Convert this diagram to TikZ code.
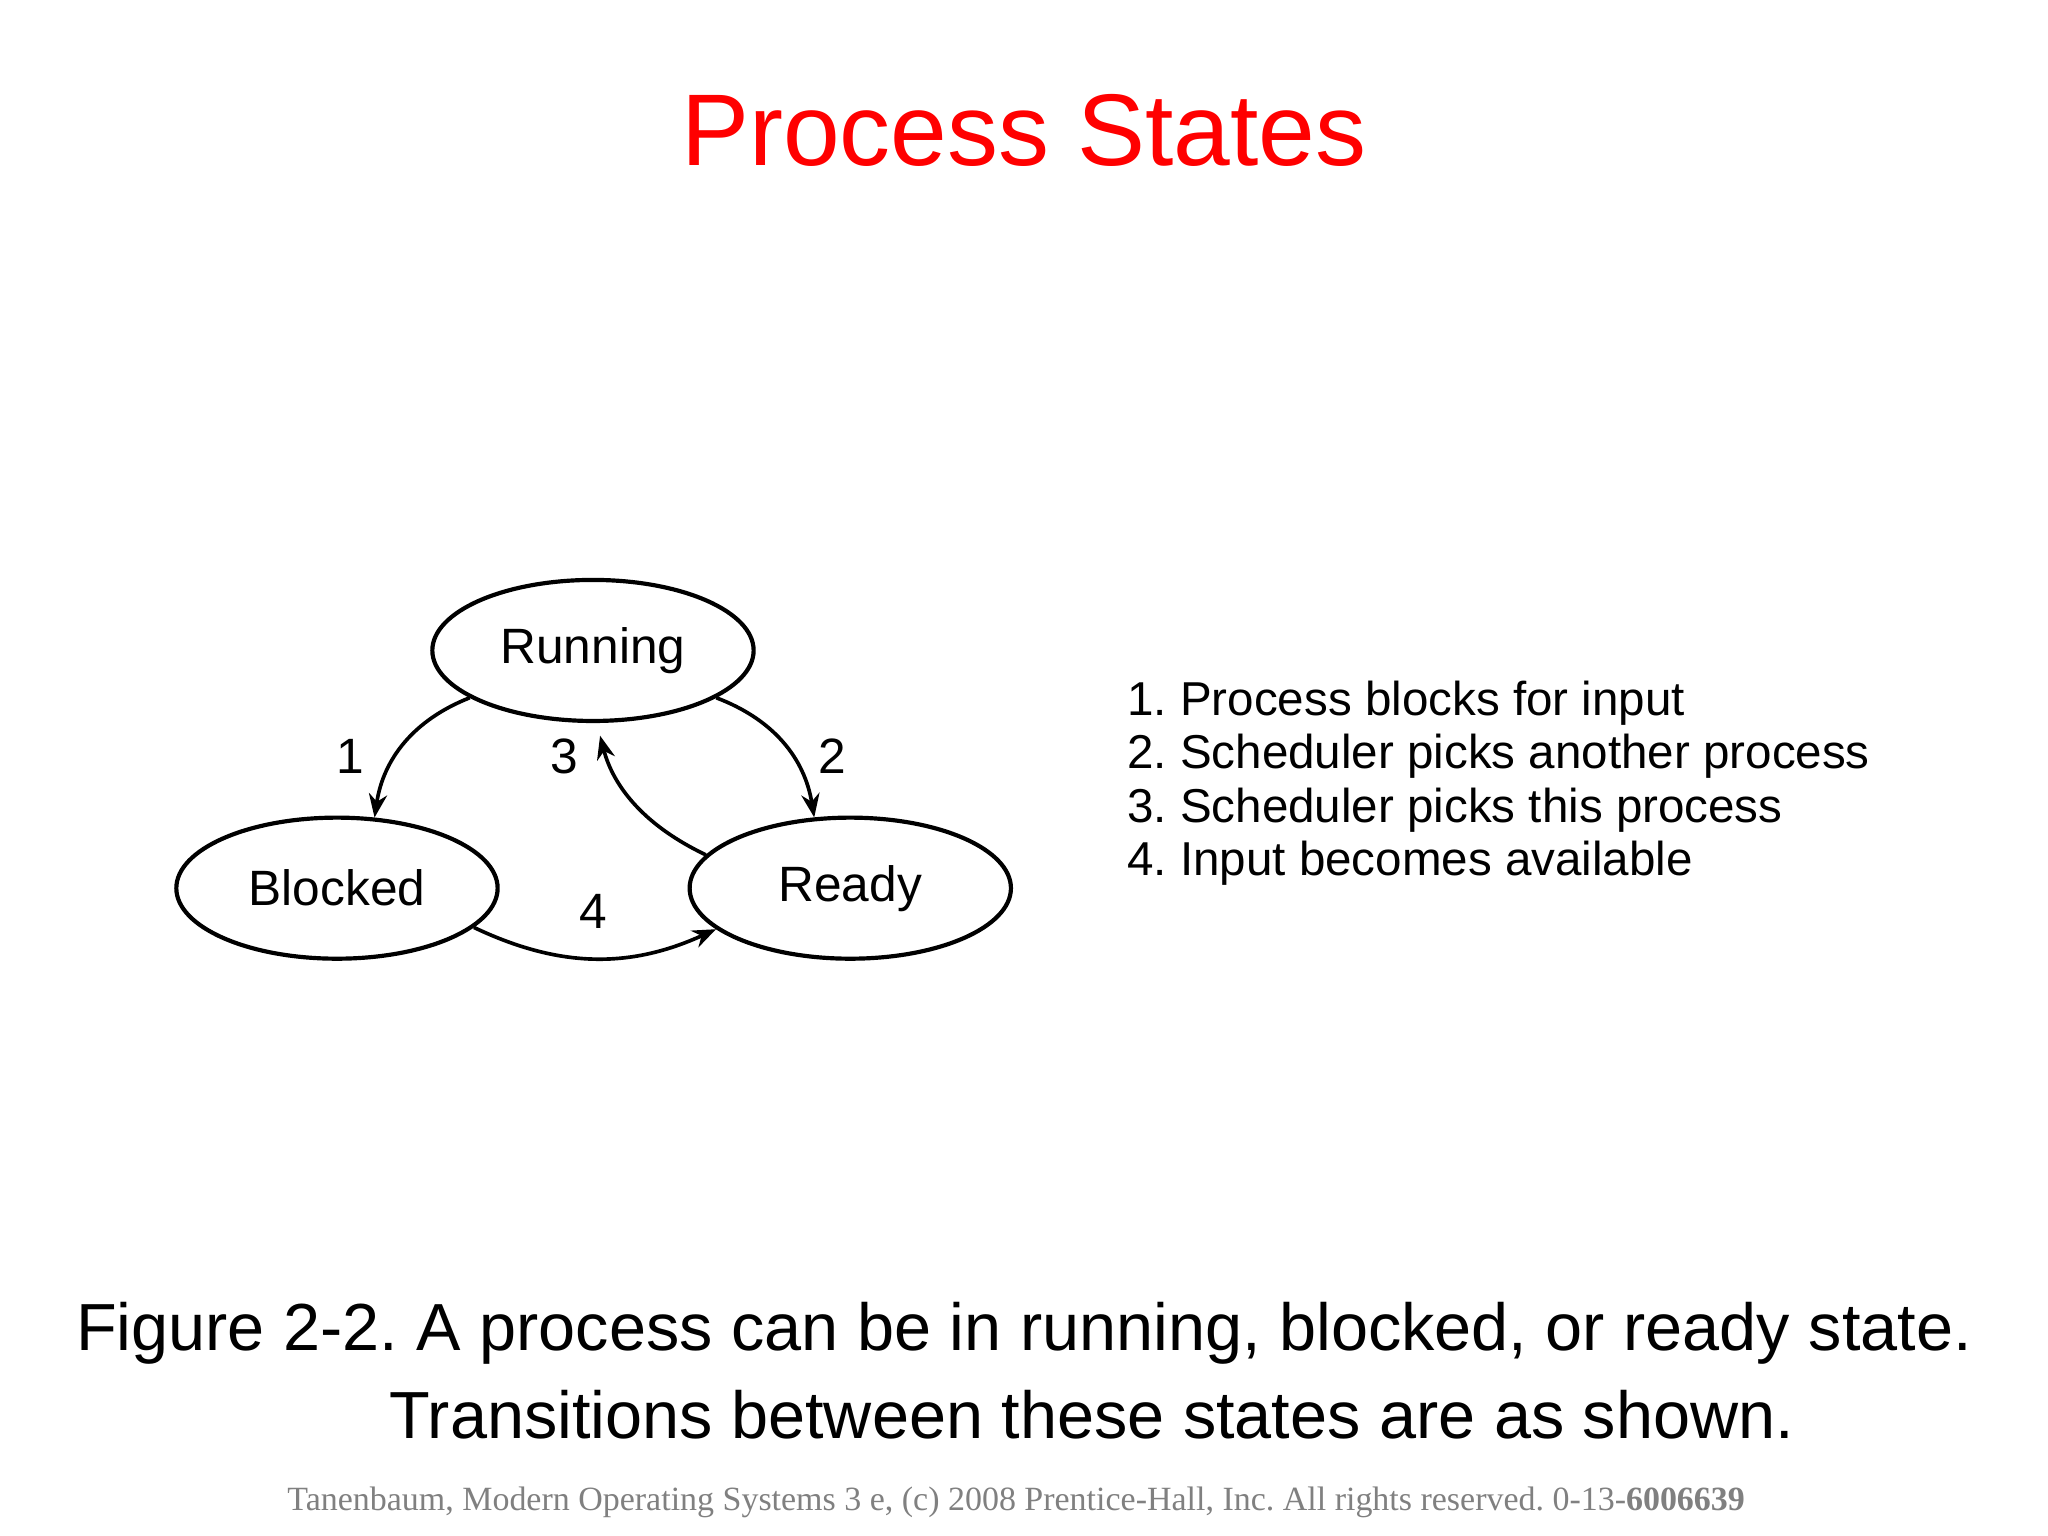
\documentclass[tikz,border=0pt]{standalone}
\usepackage{fontspec}
\setmainfont{Liberation Sans}
\newfontfamily\footfont{Liberation Serif}
\usetikzlibrary{shapes.geometric,arrows.meta}
\frenchspacing
\begin{document}
\begin{tikzpicture}[x=0.5pt,y=-0.5pt,
  state/.style={draw,ellipse,line width=1.6pt,minimum width=123pt,minimum height=54pt,inner sep=0pt,font=\fontsize{19}{22}\selectfont},
  trans/.style={line width=1.4pt,-{Stealth[length=9pt,width=7pt]}},
  lbl/.style={font=\fontsize{19}{22}\selectfont}]
\useasboundingbox[fill=white] (0,0) rectangle (1568,1176);
\node[text=red,font=\fontsize{39}{44}\selectfont] (title) at (784,100) {Process States};
\node[state] (run) at (454,498) {\raisebox{-2pt}{Running}};
\node[state] (blk) at (258,680) {Blocked};
\node[state] (rdy) at (651,680) {\raisebox{-2pt}{Ready}};
\draw[trans] (run.201) to[bend right=30] (blk.62);
\draw[trans] (run.339) to[bend left=30] (rdy.117);
\draw[trans,shorten >=5pt] (rdy.167) to[bend left=25] (run.273);
\draw[trans] (blk.344) to[bend right=25] (rdy.197);
\node[lbl] (l1) at (268,579) {1};
\node[lbl] (l2) at (637,579) {2};
\node[lbl] (l3) at (432,579) {3};
\node[lbl] (l4) at (454,698) {4};
\node[lbl,anchor=north west,align=left,font=\fontsize{18.2}{20.5}\selectfont] (legend) at (856,514)
 {1. Process blocks for input\\2. Scheduler picks another process\\3. Scheduler picks this process\\4. Input becomes available};
\node[font=\fontsize{25.5}{30}\selectfont] (cap1) at (784,1021) {Figure 2-2. A process can be in running, blocked, or ready state.};
\node[font=\fontsize{25.5}{30}\selectfont] (cap2) at (836,1083) {Transitions between these states are as shown.};
\node[text=gray,font=\footfont\fontsize{13}{16}\selectfont] (foot) at (778,1150) {Tanenbaum, Modern Operating Systems 3 e, (c) 2008 Prentice-Hall, Inc. All rights reserved. 0-13-\textbf{6006639}};
\end{tikzpicture}
\end{document}
